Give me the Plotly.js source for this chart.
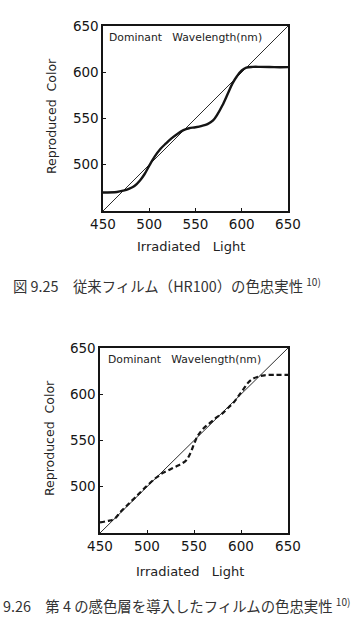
<!DOCTYPE html>
<html><head><meta charset="utf-8">
<script src="https://cdn.plot.ly/plotly-3.0.1.min.js"></script>
<style>html,body{margin:0;padding:0;background:#fff;}#c{width:364px;height:618px;}</style>
</head><body><div id="c"></div>
<script>
// Chart 1 (HR100)
const diag = [450, 650];
const hrX = [450, 465, 472, 478, 484, 490, 495, 500, 506, 512, 518, 524, 530, 537, 543, 550, 557, 563, 569, 574, 579, 585, 590, 595, 600, 605, 612, 620, 635, 650];
const hrY = [470, 470.5, 472, 474, 477, 483, 490, 499, 509, 517, 523, 528.5, 533, 537.5, 539.5, 540.5, 542, 544, 548, 555, 564, 577, 588, 596, 602, 605, 605.8, 605.8, 605.5, 605.5];
// Chart 2 (4th layer)
const fxX = [450, 458, 465, 472, 480, 490, 500, 510, 517, 524, 531, 537, 542, 546, 550, 554, 560, 567, 574, 580, 587, 593, 598, 603, 608, 613, 618, 625, 635, 650];
const fxY = [461.5, 463, 465, 473, 481, 491, 501, 510, 515, 518.5, 522, 525, 529, 536, 546, 555, 563, 569, 575, 579, 586, 592, 599, 606, 613, 617, 619, 620.5, 621, 621];
const xTicks = [450, 500, 550, 600, 650];
const yTicks = [500, 550, 600, 650];
const xTitle = 'Irradiated&nbsp;&nbsp;&nbsp;Light';
const yTitle = 'Reproduced&nbsp;&nbsp;Color';
const boxLabel = 'Dominant&nbsp;&nbsp;&nbsp;Wavelength(nm)';
const cap1 = '図 9.25　従来フィルム（HR100）の色忠実性 <sup>10)</sup>';
const cap2 = '9.26　第 4 の感色層を導入したフィルムの色忠実性 <sup>10)</sup>';

const W = 364, H = 618;
const px = v => v / W, py = v => 1 - v / H;
const ink = '#151515';
const tf = {family: 'DejaVu Sans', size: 13.5, color: '#151515'};

function axX(dom, anchor) {
  return {domain: dom, anchor: anchor, range: [450, 650], tickvals: xTicks, ticks: 'inside', ticklen: 3,
    tickcolor: ink, showline: true, mirror: true, linecolor: ink, linewidth: 1.6, showgrid: false,
    zeroline: false, tickfont: tf, fixedrange: true};
}
function axY(dom, anchor) {
  return {domain: dom, anchor: anchor, range: [450, 650], tickvals: yTicks, ticks: 'inside', ticklen: 3,
    tickcolor: ink, showline: true, mirror: true, linecolor: ink, linewidth: 1.6, showgrid: false,
    zeroline: false, tickfont: tf, fixedrange: true};
}

const traces = [
  {x: diag, y: diag, xaxis: 'x', yaxis: 'y', mode: 'lines', line: {color: ink, width: 0.9}},
  {x: hrX, y: hrY, xaxis: 'x', yaxis: 'y', mode: 'lines', line: {color: ink, width: 2.4, shape: 'spline'}},
  {x: diag, y: diag, xaxis: 'x2', yaxis: 'y2', mode: 'lines', line: {color: ink, width: 0.9}},
  {x: fxX, y: fxY, xaxis: 'x2', yaxis: 'y2', mode: 'lines', line: {color: ink, width: 2.2, dash: '5px,3px', shape: 'spline'}}
];

const ann = (text, x, y, opts) => Object.assign({text: text, x: px(x), y: py(y), xref: 'paper', yref: 'paper', showarrow: false,
  font: {family: 'DejaVu Sans', size: 13, color: '#222'}}, opts || {});

const layout = {
  width: W, height: H, margin: {l: 0, r: 0, t: 0, b: 0}, showlegend: false,
  paper_bgcolor: '#fff', plot_bgcolor: '#fff',
  xaxis: axX([px(103), px(288)], 'y'),
  yaxis: axY([py(211), py(26)], 'x'),
  xaxis2: axX([px(100), px(288)], 'y2'),
  yaxis2: axY([py(533), py(348)], 'x2'),
  annotations: [
    ann(boxLabel, 107, 37, {xanchor: 'left', yanchor: 'middle', font: {family: 'DejaVu Sans', size: 10.8, color: '#222'}}),
    ann(boxLabel, 106, 359, {xanchor: 'left', yanchor: 'middle', font: {family: 'DejaVu Sans', size: 10.8, color: '#222'}}),
    ann(xTitle, 191, 246, {xanchor: 'center', yanchor: 'middle'}),
    ann(xTitle, 190, 571, {xanchor: 'center', yanchor: 'middle'}),
    ann(yTitle, 51, 116, {xanchor: 'center', yanchor: 'middle', textangle: -90, font: {family: 'DejaVu Sans', size: 12.5, color: '#222'}}),
    ann(yTitle, 49, 438, {xanchor: 'center', yanchor: 'middle', textangle: -90, font: {family: 'DejaVu Sans', size: 12.5, color: '#222'}}),
    ann(cap1, 11, 285, {xanchor: 'left', yanchor: 'middle', font: {family: 'Noto Sans CJK JP', size: 14.4, color: '#333'}}),
    ann(cap2, 1, 605, {xanchor: 'left', yanchor: 'middle', font: {family: 'Noto Sans CJK JP', size: 14.4, color: '#333'}})
  ]
};
Plotly.newPlot('c', traces, layout, {displayModeBar: false, staticPlot: true});
</script></body></html>
